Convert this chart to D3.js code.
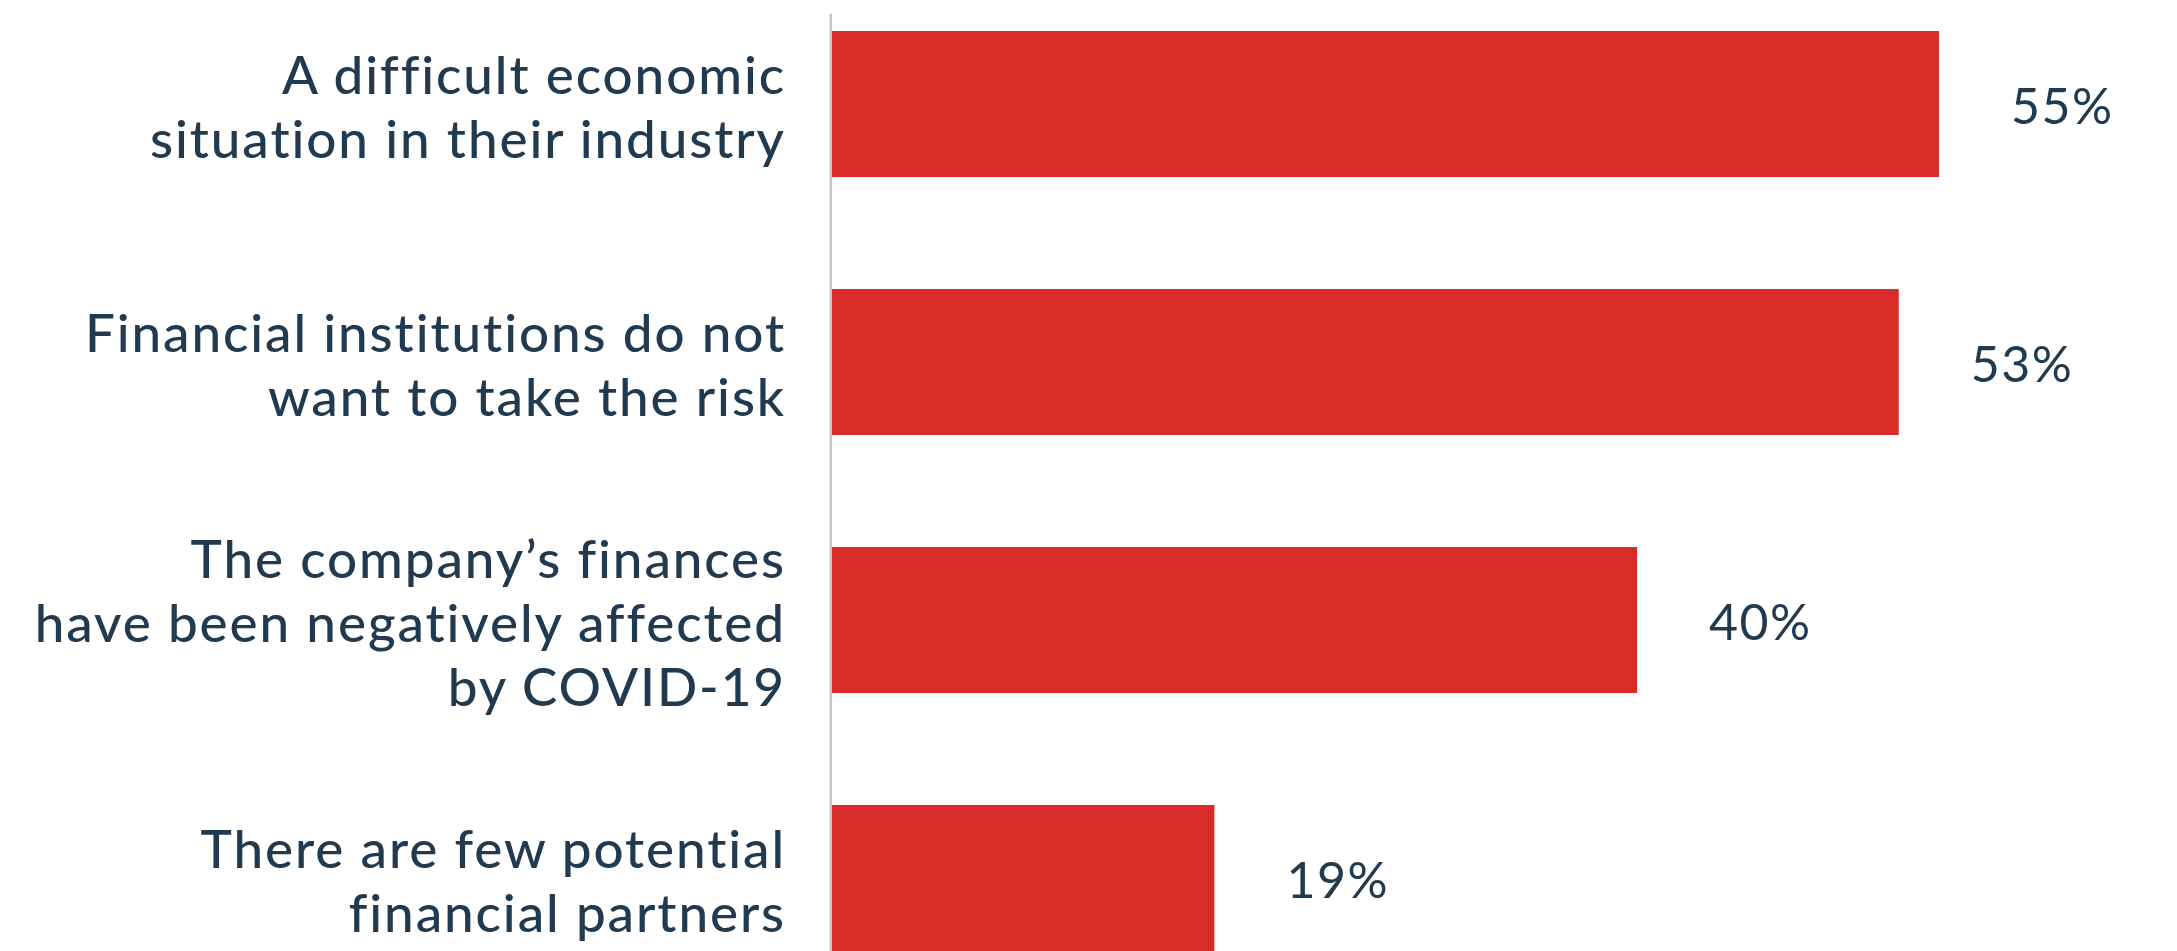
<!DOCTYPE html>
<html>
<head>
<meta charset="utf-8">
<script src="https://cdn.jsdelivr.net/npm/d3@7"></script>
<style>
  body { margin: 0; background: #fff; }
  svg text { font-family: Lato, "Open Sans", sans-serif; fill: #213a4f; }
</style>
</head>
<body>
<svg id="chart" width="2177" height="951"></svg>
<script>
// category labels, one entry per line
var reasons = [
  ["A difficult economic", "situation in their industry"],
  ["Financial institutions do not", "want to take the risk"],
  ["The company\u2019s finances", "have been negatively affected", "by COVID-19"],
  ["There are few potential", "financial partners"]
];
// share of respondents, %
var shares = [55, 53, 40, 19];

var width = 2177, height = 951;
var margin = {top: 31, right: 238, bottom: 0, left: 832};
var barColor = '#d72c27';
var lineHeight = 64;

var svg = d3.select('#chart');

var x = d3.scaleLinear()
      .domain([0, 55])
      .range([margin.left, width - margin.right]);

var y = d3.scaleBand()
      .domain(d3.range(reasons.length))
      .range([margin.top, height - margin.bottom])
      .paddingInner(0.434)
      .paddingOuter(0);

//bars
svg.append('g')
      .selectAll('rect')
      .data(shares)
      .enter()
      .append('rect')
      .attr('x', x(0))
      .attr('y', function(d, i) { return y(i); })
      .attr('width', function(d) { return x(d) - x(0); })
      .attr('height', y.bandwidth())
      .style('fill', barColor);

//axis line
svg.append('line')
      .attr('x1', x(0) - 1.2)
      .attr('x2', x(0) - 1.2)
      .attr('y1', 14)
      .attr('y2', height)
      .style('stroke', '#c4c4c4')
      .style('stroke-width', 2.4);

//category labels (multi-line, right aligned)
var labelSize = 53, labelCap = labelSize * 0.7165;
var labels = svg.append('g')
      .selectAll('text')
      .data(reasons)
      .enter()
      .append('text')
      .attr('text-anchor', 'end')
      .style('font-size', labelSize + 'px')
      .style('font-weight', 500)
      .style('letter-spacing', '1.9px');

labels.each(function(lines, i) {
      var center = y(i) + y.bandwidth() / 2 + 3;
      var first = center - ((lines.length - 1) * lineHeight + labelCap) / 2 + labelCap;
      d3.select(this).selectAll('tspan')
            .data(lines)
            .enter()
            .append('tspan')
            .attr('x', x(0) - 46)
            .attr('y', function(d, j) { return first + j * lineHeight; })
            .text(function(d) { return d; });
});

//value labels
var valueSize = 50;
svg.append('g')
      .selectAll('text')
      .data(shares)
      .enter()
      .append('text')
      .attr('x', function(d) { return x(d) + 72; })
      .attr('y', function(d, i) { return y(i) + y.bandwidth() / 2 + valueSize * 0.7165 / 2 + 2; })
      .style('font-size', valueSize + 'px')
      .style('font-weight', 400)
      .style('letter-spacing', '1.5px')
      .text(function(d) { return d + '%'; });
</script>
</body>
</html>
